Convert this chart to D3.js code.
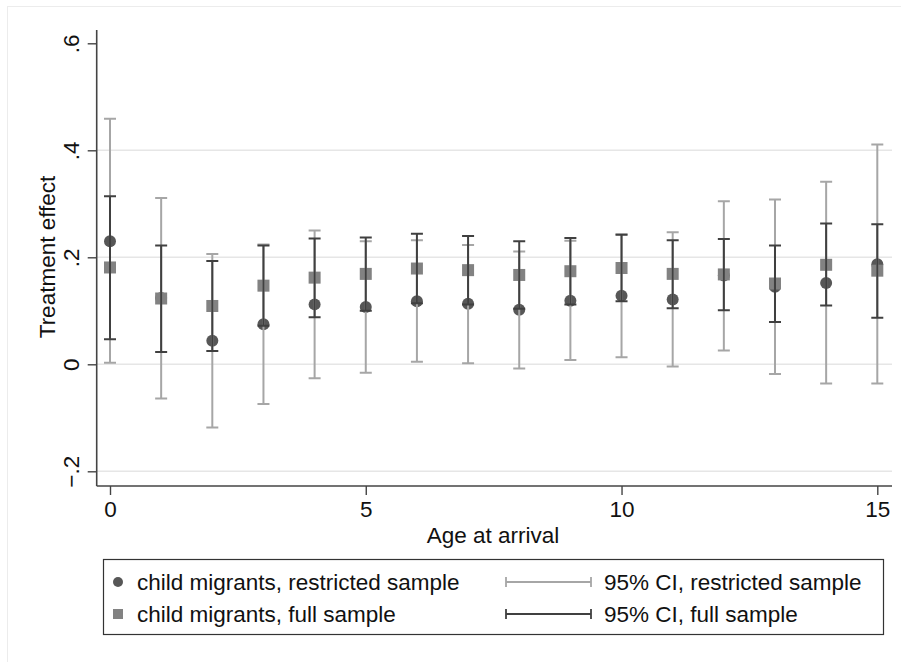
<!DOCTYPE html>
<html>
<head>
<meta charset="utf-8">
<script src="https://cdn.jsdelivr.net/npm/d3@7.9.0/dist/d3.min.js"></script>
<style>
  body { margin: 0; background: #fff; }
  svg { display: block; font-family: "Liberation Sans", Arial, sans-serif; }
</style>
</head>
<body>
<svg id="chart" width="901" height="662"></svg>
<script>
// age at arrival
const ages = [0, 1, 2, 3, 4, 5, 6, 7, 8, 9, 10, 11, 12, 13, 14, 15];

// restricted sample: point estimate and 95% CI
const restricted = [0.230, 0.124, 0.044, 0.075, 0.112, 0.107, 0.118, 0.113, 0.102, 0.119, 0.128, 0.121, 0.166, 0.145, 0.152, 0.187];
const restrictedLo = [0.003, -0.064, -0.118, -0.074, -0.026, -0.016, 0.005, 0.002, -0.008, 0.008, 0.013, -0.004, 0.026, -0.018, -0.036, -0.036];
const restrictedHi = [0.459, 0.311, 0.206, 0.224, 0.250, 0.230, 0.232, 0.223, 0.211, 0.231, 0.243, 0.247, 0.305, 0.308, 0.341, 0.411];

// full sample: point estimate and 95% CI
const full = [0.181, 0.123, 0.109, 0.147, 0.162, 0.169, 0.179, 0.176, 0.167, 0.174, 0.180, 0.169, 0.168, 0.151, 0.186, 0.175];
const fullLo = [0.047, 0.023, 0.025, 0.072, 0.088, 0.100, 0.114, 0.112, 0.104, 0.112, 0.118, 0.105, 0.101, 0.079, 0.110, 0.087];
const fullHi = [0.314, 0.222, 0.193, 0.222, 0.235, 0.237, 0.244, 0.240, 0.230, 0.236, 0.242, 0.232, 0.234, 0.222, 0.263, 0.262];

const yTicks = [-0.2, 0, 0.2, 0.4, 0.6];
const xTicks = [0, 5, 10, 15];

const svg = d3.select("#chart");

const x = d3.scaleLinear().domain([0, 15]).range([110, 877.3]);
const y = d3.scaleLinear().domain([-0.2, 0.6]).range([471.3, 43.3]);

const plotLeft = 96.7, plotRight = 892, plotTop = 30, plotBottom = 486;
const fs = 22.5;

const cLight = "#a6a6a6", cDark = "#404040", cCircle = "#575757", cSquare = "#828282";

// faint outer frame
svg.append("rect").attr("x", 7.5).attr("y", 6.5).attr("width", 900).attr("height", 660)
  .attr("fill", "none").attr("stroke", "#ececec").attr("stroke-width", 1);

// gridlines
svg.append("g").selectAll("line").data(yTicks.filter(d => d < 0.6)).join("line")
  .attr("x1", plotLeft).attr("x2", plotRight)
  .attr("y1", d => y(d)).attr("y2", d => y(d))
  .attr("stroke", "#e6e6e6").attr("stroke-width", 1.6);

// y axis
const yAxis = svg.append("g").attr("transform", `translate(${plotLeft},0)`)
  .call(d3.axisLeft(y).tickValues(yTicks).tickSize(9).tickSizeOuter(0));
yAxis.select(".domain").attr("d", `M0,${plotTop}V${plotBottom}`).attr("stroke", "#444").attr("stroke-width", 1.6);
yAxis.selectAll(".tick line").attr("stroke", "#444").attr("stroke-width", 1.4);
yAxis.selectAll(".tick text")
  .text(d => d === 0 ? "0" : d3.format(".1f")(d).replace("0.", "."))
  .attr("font-size", fs).attr("fill", "#111")
  .attr("transform", "rotate(-90)")
  .attr("x", 0).attr("y", -18).attr("dy", 0)
  .attr("text-anchor", "middle");

// x axis
const xAxis = svg.append("g").attr("transform", `translate(0,${plotBottom})`)
  .call(d3.axisBottom(x).tickValues(xTicks).tickSize(9).tickSizeOuter(0));
xAxis.select(".domain").attr("d", `M${plotLeft},0H${plotRight}`).attr("stroke", "#444").attr("stroke-width", 1.6);
xAxis.selectAll(".tick line").attr("stroke", "#444").attr("stroke-width", 1.4);
xAxis.selectAll(".tick text").attr("font-size", fs).attr("fill", "#111").attr("y", 31).attr("dy", 0);

// axis titles
svg.append("text").attr("x", 493).attr("y", 543).attr("text-anchor", "middle")
  .attr("font-size", fs).attr("fill", "#111").text("Age at arrival");
svg.append("text").attr("transform", "translate(55,257) rotate(-90)").attr("text-anchor", "middle")
  .attr("font-size", fs).attr("fill", "#111").text("Treatment effect");

// markers
svg.append("g").selectAll("circle").data(ages).join("circle")
  .attr("cx", d => x(d)).attr("cy", (d, i) => y(restricted[i])).attr("r", 6)
  .attr("fill", cCircle);
svg.append("g").selectAll("rect").data(ages).join("rect")
  .attr("x", d => x(d) - 6).attr("y", (d, i) => y(full[i]) - 6)
  .attr("width", 12).attr("height", 12).attr("fill", cSquare);

// error bars
function drawCI(lo, hi, color) {
  const g = svg.append("g").attr("stroke", color).attr("stroke-width", 2).attr("fill", "none");
  g.selectAll("path").data(ages).join("path")
    .attr("d", (d, i) => {
      const cx = x(d), y0 = y(lo[i]), y1 = y(hi[i]);
      return `M${cx},${y0}V${y1}M${cx - 6},${y0}H${cx + 6}M${cx - 6},${y1}H${cx + 6}`;
    });
}
drawCI(restrictedLo, restrictedHi, cLight);
drawCI(fullLo, fullHi, cDark);

// legend
const lg = svg.append("g");
lg.append("rect").attr("x", 103.5).attr("y", 559.5).attr("width", 780).attr("height", 75)
  .attr("fill", "#fff").attr("stroke", "#333").attr("stroke-width", 1.2);
const rows = [582, 614];
lg.append("circle").attr("cx", 118).attr("cy", rows[0]).attr("r", 5).attr("fill", cCircle);
lg.append("rect").attr("x", 113).attr("y", rows[1] - 5).attr("width", 10).attr("height", 10).attr("fill", cSquare);
const legendText = ["child migrants, restricted sample", "child migrants, full sample"];
const legendText2 = ["95% CI, restricted sample", "95% CI, full sample"];
lg.selectAll("text.a").data(legendText).join("text").attr("class", "a")
  .attr("x", 137).attr("y", (d, i) => rows[i] + 8).attr("font-size", fs).attr("fill", "#111").text(d => d);
[cLight, cDark].forEach((c, i) => {
  lg.append("path").attr("d", `M506,${rows[i]}H591M506,${rows[i] - 5}V${rows[i] + 5}M591,${rows[i] - 5}V${rows[i] + 5}`)
    .attr("stroke", c).attr("stroke-width", 1.8).attr("fill", "none");
});
lg.selectAll("text.b").data(legendText2).join("text").attr("class", "b")
  .attr("x", 604).attr("y", (d, i) => rows[i] + 8).attr("font-size", fs).attr("fill", "#111").text(d => d);
</script>
</body>
</html>
